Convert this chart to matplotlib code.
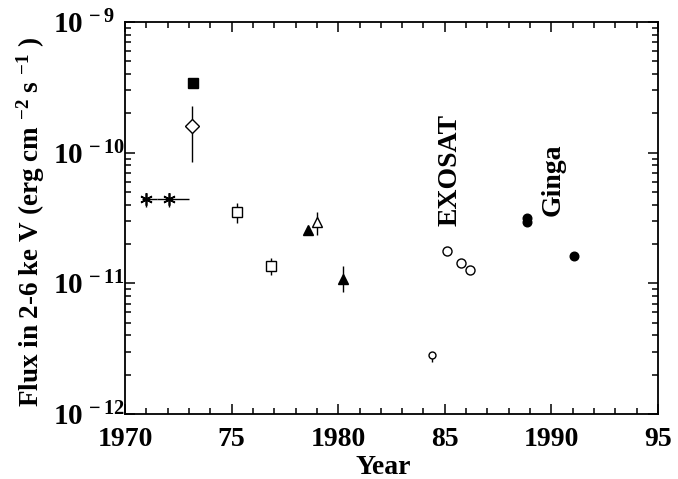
import numpy as np
import matplotlib
matplotlib.use("Agg")
import matplotlib.pyplot as plt

plt.rcParams['font.family'] = ['Liberation Serif', 'DejaVu Serif']
plt.rcParams['font.weight'] = 'bold'
plt.rcParams['mathtext.fontset'] = 'custom'
plt.rcParams['mathtext.rm'] = 'Liberation Serif:bold'
plt.rcParams['mathtext.it'] = 'Liberation Serif:bold'
plt.rcParams['mathtext.bf'] = 'Liberation Serif:bold'
plt.rcParams['mathtext.default'] = 'rm'

# ---- data (year, flux in erg cm^-2 s^-1) ----
aster_year = [1970.98, 1972.06]
aster_flux = [4.43e-11, 4.43e-11]
aster_xlo = [1970.80, 1971.52]
aster_xhi = [1971.52, 1973.00]
aster_flo = [3.85e-11, 3.85e-11]
aster_fhi = [4.92e-11, 4.92e-11]

fsq_year = [1973.19]
fsq_flux = [3.42e-10]

diam_year = [1973.14]
diam_flux = [1.60e-10]
diam_flo = [8.5e-11]
diam_fhi = [2.28e-10]

osq_year = [1975.24, 1976.83]
osq_flux = [3.52e-11, 1.36e-11]
osq_flo = [2.90e-11, 1.16e-11]
osq_fhi = [4.13e-11, 1.57e-11]

ftri_year = [1978.58, 1980.21]
ftri_flux = [2.57e-11, 1.08e-11]
ftri_flo = [2.57e-11, 8.6e-12]
ftri_fhi = [2.57e-11, 1.36e-11]

otri_year = [1978.99]
otri_flux = [2.97e-11]
otri_flo = [2.35e-11]
otri_fhi = [3.52e-11]

exo_year = [1985.09, 1985.76, 1986.18]
exo_flux = [1.77e-11, 1.43e-11, 1.27e-11]

exo_low_year = [1984.38]
exo_low_flux = [2.81e-12]
exo_low_flo = [2.51e-12]

ginga_year = [1988.86, 1988.86, 1991.06]
ginga_flux = [3.15e-11, 2.95e-11, 1.61e-11]

xticks = [1970, 1975, 1980, 1985, 1990, 1995]
xticklabels = ['1970', '75', '1980', '85', '1990', '95']
yticks = [1e-12, 1e-11, 1e-10, 1e-9]
yticklabels = [r'$10^{\,-12}$', r'$10^{\,-11}$', r'$10^{\,-10}$', r'$10^{\,-9}$']

fig = plt.figure(figsize=(6.78, 4.79), dpi=100)
ax = fig.add_axes([125/678, 1 - 414/479, (658-125)/678, (414-22)/479])
ax.set_yscale('log')
ax.set_xlim(1970, 1995)
ax.set_ylim(1e-12, 1e-9)

k = 'black'
def yerr(f, lo, hi):
    f = np.array(f); return [f - np.array(lo), np.array(hi) - f]

# asterisks
ay = np.array(aster_year)
ax.errorbar(aster_year, aster_flux,
            xerr=[ay - np.array(aster_xlo), np.array(aster_xhi) - ay],
            yerr=yerr(aster_flux, aster_flo, aster_fhi),
            fmt='none', ecolor=k, elinewidth=1.0, capsize=0)
ax.plot(aster_year, aster_flux, ls='none', marker=(6, 2, 0), ms=9,
        mec=k, mew=1.2)

# filled square
ax.plot(fsq_year, fsq_flux, ls='none', marker='s', ms=7, mfc=k, mec=k)

# open diamond
ax.errorbar(diam_year, diam_flux, yerr=yerr(diam_flux, diam_flo, diam_fhi),
            fmt='D', ms=7.5, mfc='white', mec=k, mew=1.0,
            ecolor=k, elinewidth=1.0, capsize=0)

# open squares
ax.errorbar(osq_year, osq_flux, yerr=yerr(osq_flux, osq_flo, osq_fhi),
            fmt='s', ms=6.5, mfc='white', mec=k, mew=1.0,
            ecolor=k, elinewidth=1.0, capsize=0)

# filled triangles
ax.errorbar(ftri_year, ftri_flux, yerr=yerr(ftri_flux, ftri_flo, ftri_fhi),
            fmt='^', ms=7, mfc=k, mec=k,
            ecolor=k, elinewidth=1.0, capsize=0)

# open triangle
ax.errorbar(otri_year, otri_flux, yerr=yerr(otri_flux, otri_flo, otri_fhi),
            fmt='^', ms=7.5, mfc='white', mec=k, mew=1.0,
            ecolor=k, elinewidth=1.0, capsize=0)

# EXOSAT
ax.plot(exo_year, exo_flux, ls='none', marker='o', ms=6.5, mfc='white',
        mec=k, mew=1.0)
ef = np.array(exo_low_flux)
ax.errorbar(exo_low_year, exo_low_flux, yerr=[ef - np.array(exo_low_flo), ef * 0],
            fmt='o', ms=5, mfc='white', mec=k, mew=1.0,
            ecolor=k, elinewidth=1.0, capsize=0)

# Ginga
ax.plot(ginga_year, ginga_flux, ls='none', marker='o', ms=6.2, mfc=k, mec=k)

# annotations
ax.text(1985.24, 7.38e-11, 'EXOSAT', rotation=90, ha='center', va='center',
        fontsize=20, fontweight='bold')
ax.text(1990.07, 6.19e-11, 'Ginga', rotation=90, ha='center', va='center',
        fontsize=20, fontweight='bold')

# axes styling
ax.set_xticks(xticks)
ax.set_xticklabels(xticklabels)
ax.set_xticks(np.arange(1970, 1996, 1), minor=True)
ax.set_yticks(yticks)
ax.set_yticklabels(yticklabels)
for s in ax.spines.values():
    s.set_linewidth(1.3)
ax.tick_params(which='both', direction='in', top=True, right=True, width=1.1)
ax.tick_params(which='major', length=7)
ax.tick_params(which='minor', length=4)
ax.tick_params(axis='x', which='major', labelsize=20, pad=9)
ax.tick_params(axis='y', which='major', labelsize=21, pad=52)
for lab in ax.get_yticklabels():
    lab.set_horizontalalignment('left')

ax.set_xlabel('Year', fontsize=20, fontweight='bold')
ax.xaxis.set_label_coords(0.484, -0.104)
ax.set_ylabel(r'Flux in 2-6 ke V (erg cm $^{-2}$ s $^{-1}$ )', fontsize=19.5,
              fontweight='bold')
ax.yaxis.set_label_coords(-0.146, 0.49)

fig.savefig('out.png', dpi=100)
